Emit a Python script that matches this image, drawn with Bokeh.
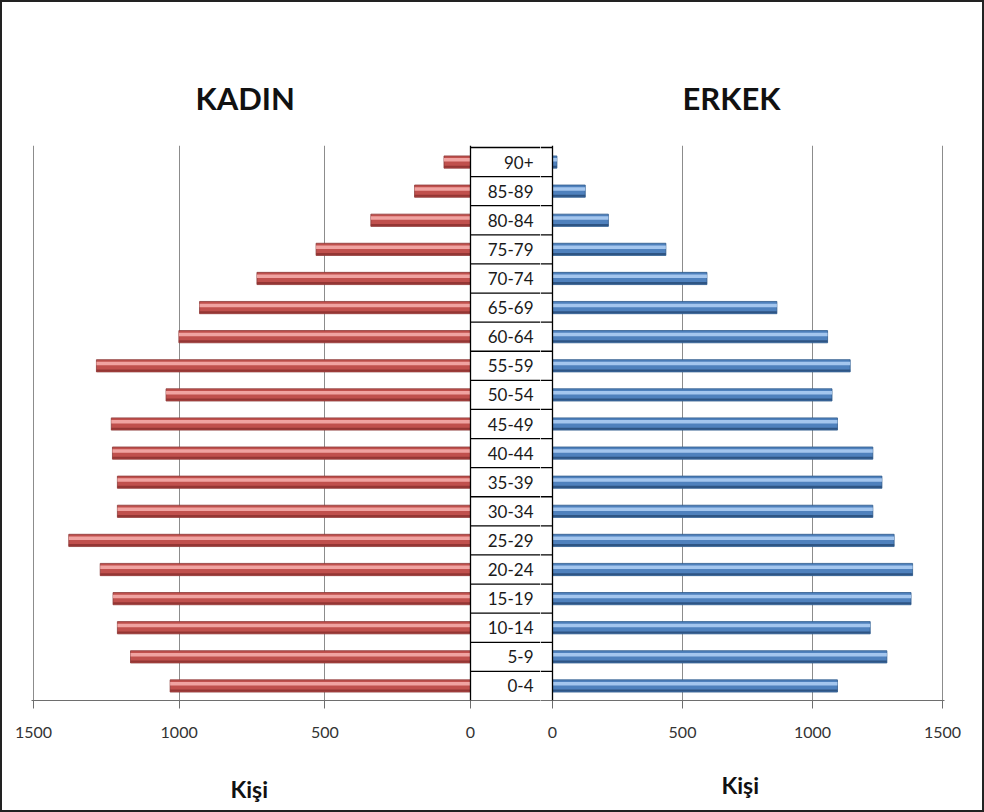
from bokeh.plotting import figure
from bokeh.models import Range1d, FixedTicker, Span, ColumnDataSource
from bokeh.layouts import row, column
from bokeh.core.properties import value
from bokeh.embed import file_html
from bokeh.resources import INLINE

# ---- data ----
ages = ["0-4", "5-9", "10-14", "15-19", "20-24", "25-29", "30-34", "35-39",
        "40-44", "45-49", "50-54", "55-59", "60-64", "65-69", "70-74",
        "75-79", "80-84", "85-89", "90+"]
women = [1031, 1167, 1212, 1227, 1271, 1379, 1212, 1212, 1229, 1233,
         1045, 1284, 1001, 930, 733, 530, 342, 192, 91]
men = [1096, 1286, 1222, 1379, 1385, 1314, 1232, 1267, 1232, 1096,
       1075, 1145, 1058, 863, 594, 436, 215, 126, 17]
ticks = [0, 500, 1000, 1500]
grid_ticks = [500, 1000, 1500]
title_left = "KADIN"
title_right = "ERKEK"
unit_label = "Kişi"

pos = [i + 0.5 for i in range(len(ages))]
src = ColumnDataSource(dict(age=ages, y=pos, women=women, men=men,
                            y_hi=[p + 0.075 for p in pos],
                            y_lo=[p - 0.16 for p in pos],
                            zero=[0] * len(ages)))
bounds = [float(i) for i in range(1, len(ages) + 1)]

FONT = "Lato"
BW = 2                      # outer border width (css)
MAIN_H = 746                # main figures height
STRIP_H = 812 - 2 * BW - MAIN_H
TOP = 145 - BW
BOT = MAIN_H - (700 - BW)
row_px = (700 - 147) / len(ages)
ytop = len(ages) + 2 / row_px
GRID_COL = "#8c8c8c"
AXIS_COL = "#6e6e6e"
BAR_H = 0.42


def style(p, ticker_vals, title_offset):
    p.xaxis.ticker = FixedTicker(ticks=ticker_vals)
    p.xgrid.ticker = FixedTicker(ticks=grid_ticks)
    p.xgrid.grid_line_color = GRID_COL
    p.ygrid.visible = False
    p.xaxis.axis_line_color = AXIS_COL
    p.xaxis.major_tick_line_color = AXIS_COL
    p.xaxis.major_tick_out = 8
    p.xaxis.major_tick_in = 0
    p.xaxis.minor_tick_line_color = None
    p.xaxis.major_label_text_font = FONT
    p.xaxis.major_label_text_font_size = "16px"
    p.xaxis.major_label_text_color = "#333333"
    p.xaxis.major_label_standoff = 18
    p.outline_line_color = None
    p.background_fill_color = "white"
    p.border_fill_color = "white"
    p.title.text_font = FONT
    p.title.text_font_size = "31px"
    p.title.text_font_style = "bold"
    p.title.text_color = "#111111"
    p.title.align = "left"
    p.title.standoff = 57
    p.title.offset = title_offset
    p.add_layout(Span(location=0, dimension="height", line_color="black", line_width=1.3))


# ---- left (women) ----
sL = 437 / 1500.0
left_start = 1500 + 2 / sL
left_end = -(540 - 470) / sL
pL = figure(width=540 - BW, height=MAIN_H, title=title_left,
            x_range=Range1d(left_start, left_end), y_range=Range1d(0, ytop),
            output_backend="svg", toolbar_location=None,
            y_axis_location=None, x_axis_location="below",
            min_border_left=31 - BW, min_border_right=0,
            min_border_top=TOP, min_border_bottom=BOT)
style(pL, ticks, 164)
pL.hbar(y="y", left="zero", right="women", height=BAR_H, source=src,
        fill_color="#C0504D", line_color="#8C3A38", line_width=0.8)
pL.hbar(y="y_hi", left="zero", right="women", height=0.12, source=src,
        fill_color="#F0A3A1", line_color=None)
pL.hbar(y="y_lo", left="zero", right="women", height=0.07, source=src,
        fill_color="#943634", line_color=None)
pL.segment(x0=[0] * len(bounds), x1=[left_end] * len(bounds), y0=bounds, y1=bounds,
           line_color="black", line_width=1.3)
label_x = -(533 - 470) / sL
pL.text(x=label_x, y="y", text="age", source=src, text_align="right",
        text_baseline="middle", text_font=value(FONT), text_font_size="17px",
        text_color="#1a1a1a")

# ---- right (men) ----
sR = 390 / 1500.0
right_start = -(552 - 540) / sR
right_end = 1500 + 2 / sR
pR = figure(width=444 - BW, height=MAIN_H, title=title_right,
            x_range=Range1d(right_start, right_end), y_range=Range1d(0, ytop),
            output_backend="svg", toolbar_location=None,
            y_axis_location=None, x_axis_location="below",
            min_border_left=0, min_border_right=40 - BW,
            min_border_top=TOP, min_border_bottom=BOT)
style(pR, ticks, 142)
pR.hbar(y="y", left="zero", right="men", height=BAR_H, source=src,
        fill_color="#4F81BD", line_color="#2F5A8C", line_width=0.8)
pR.hbar(y="y_hi", left="zero", right="men", height=0.12, source=src,
        fill_color="#A4C6EE", line_color=None)
pR.hbar(y="y_lo", left="zero", right="men", height=0.07, source=src,
        fill_color="#2E5584", line_color=None)
pR.segment(x0=[right_start] * len(bounds), x1=[0] * len(bounds), y0=bounds, y1=bounds,
           line_color="black", line_width=1.3)

# ---- bottom strip with the unit labels ----
strip_w = 984 - 2 * BW
ps = figure(width=strip_w, height=STRIP_H, x_range=Range1d(0, strip_w),
            y_range=Range1d(0, STRIP_H), output_backend="svg",
            toolbar_location=None, x_axis_location=None, y_axis_location=None,
            min_border=0, outline_line_color=None)
ps.xgrid.visible = False
ps.ygrid.visible = False
strip_top_page = BW + MAIN_H
ps.text(x=[230 - BW, 721 - BW],
        y=[STRIP_H - (788 - strip_top_page), STRIP_H - (784 - strip_top_page)],
        text=[unit_label, unit_label], text_align="left", text_baseline="middle",
        text_font=value(FONT), text_font_size="23px", text_font_style="bold",
        text_color="#111111")

layout = column(row(pL, pR), ps,
                styles={"border": "%dpx solid #222222" % BW, "box-sizing": "content-box"})

open("out.html", "w").write(file_html(layout, INLINE))
